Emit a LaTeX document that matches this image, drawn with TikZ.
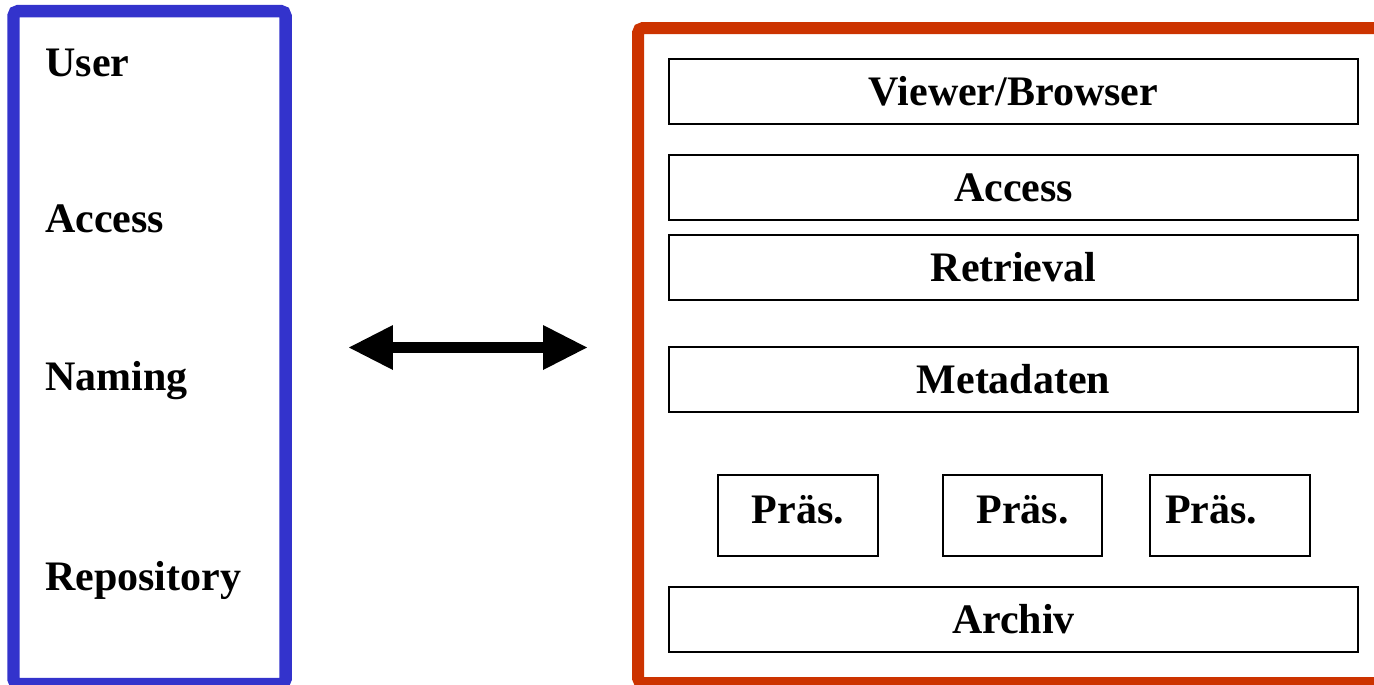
\documentclass[tikz,border=0pt]{standalone}
\usepackage{fontspec}
\setmainfont{Liberation Serif}
\usetikzlibrary{arrows.meta}
\definecolor{userblue}{HTML}{3333CC}
\definecolor{archred}{HTML}{CC3300}
\tikzset{
  lbl/.style={font=\fontsize{23.9}{28}\selectfont\bfseries,inner sep=0pt},
  layer/.style={lbl,draw,line width=.04cm,minimum width=13.78cm,minimum height=1.3cm,text height=.56cm,text depth=0pt},
  praes/.style={layer,minimum width=3.2cm,minimum height=1.62cm,text depth=.24cm}
}
\begin{document}
\begin{tikzpicture}[x=.02cm,y=-.02cm,>={Triangle[length=.88cm,width=.9cm,line width=0pt]}]
\path[use as bounding box,clip](0,0)rectangle(1374,684);
% left column
\draw[userblue,line width=.25cm,rounded corners=.1cm](13.5,11)rectangle(285.5,684);
\node[lbl,anchor=base west](user)at(45,76){User};\node[lbl,anchor=base west](access)at(45,232){Access};
\node[lbl,anchor=base west](naming)at(45,390){Naming};\node[lbl,anchor=base west](repo)at(45,590){Repository};
% arrow
\coordinate(al)at(349,347.5);\coordinate(ar)at(587,347.5);
\draw[<->,line width=.22cm](al)--(ar);
% right column
\draw[archred,line width=.24cm,rounded corners=.1cm](638,28)rectangle(1420,683);
\node[layer](viewer)at(1013.5,91.5){Viewer/Browser};\node[layer](acc)at(1013.5,187.5){Access};
\node[layer](retr)at(1013.5,267.5){Retrieval};\node[layer](meta)at(1013.5,379.5){Metadaten};
\node[praes](p1)at(798,515.5){Präs.};\node[praes](p2)at(1022.5,515.5){Präs.};
\node[praes,text width=2.6cm,align=left](p3)at(1230,515.5){Präs.};
\node[layer](archiv)at(1013.5,619.5){Archiv};
\end{tikzpicture}
\end{document}
